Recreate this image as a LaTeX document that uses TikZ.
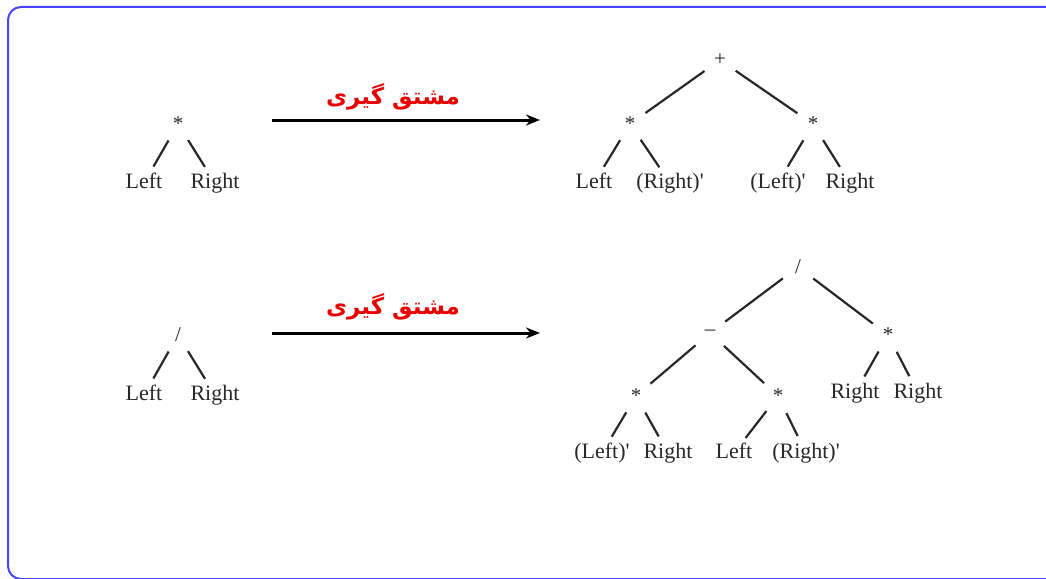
\documentclass[tikz,border=0pt]{standalone}
\usepackage{fontspec}
\setmainfont{Liberation Serif}
\newfontfamily\arabicfont[Script=Arabic]{DejaVu Sans}
\TeXXeTstate=1
\usetikzlibrary{arrows.meta}
\definecolor{framecol}{RGB}{70,70,255}
\definecolor{labred}{RGB}{235,0,0}
\definecolor{inkgray}{RGB}{40,40,40}
\newcommand{\sq}{\textquotesingle}
\tikzset{
  lf/.style={inner sep=0pt, text=inkgray, font=\fontsize{22}{24}\selectfont, text height=14pt, text depth=4pt},
  op/.style={inner sep=0pt, text=inkgray, font=\fontsize{21}{23}\selectfont},
  br/.style={line width=2.2pt, draw=inkgray, shorten <=19pt, shorten >=19pt},
  bigarrow/.style={line width=3pt, -{Stealth[length=14pt,width=11pt]}},
  arlabel/.style={text=labred, font=\arabicfont\bfseries\fontsize{23}{26}\selectfont}
}
\begin{document}
\begin{tikzpicture}[x=1pt,y=-1pt]
\clip (0,0) rectangle (1046,578);
\fill[white] (0,0) rectangle (1046,578);
\draw[framecol, line width=2pt, rounded corners=13pt] (8,7) rectangle (1070,579);

% ---- tree 1 (left) ----
\node[op] (m1) at (178,124) {*};
\node[lf] (l1) at (144,183) {Left};
\node[lf] (r1) at (215,183) {Right};
\draw[br] (m1.center) -- (l1.center);
\draw[br] (m1.center) -- (r1.center);

% arrow 1
\coordinate (a1s) at (272,120);
\coordinate (a1e) at (540,120);
\draw[bigarrow] (a1s) -- (a1e);
\node[arlabel] (t1) at (393,97) {\beginR مشتق گیری\endR};

% ---- tree 1 (right) ----
\node[op] (p) at (720,60) {+};
\node[op] (m2) at (630,124) {*};
\node[op] (m3) at (813,124) {*};
\node[lf] (l2) at (594,183) {Left};
\node[lf] (r2) at (670,183) {(Right)\sq};
\node[lf] (l3) at (778,183) {(Left)\sq};
\node[lf] (r3) at (850,183) {Right};
\draw[br] (p.center) -- (m2.center);
\draw[br] (p.center) -- (m3.center);
\draw[br] (m2.center) -- (l2.center);
\draw[br] (m2.center) -- (r2.center);
\draw[br] (m3.center) -- (l3.center);
\draw[br] (m3.center) -- (r3.center);

% ---- tree 2 (left) ----
\node[op] (d1) at (178,335) {/};
\node[lf] (l4) at (144,395) {Left};
\node[lf] (r4) at (215,395) {Right};
\draw[br] (d1.center) -- (l4.center);
\draw[br] (d1.center) -- (r4.center);

% arrow 2
\coordinate (a2s) at (272,333);
\coordinate (a2e) at (540,333);
\draw[bigarrow] (a2s) -- (a2e);
\node[arlabel] (t2) at (393,307) {\beginR مشتق گیری\endR};

% ---- tree 2 (right) ----
\node[op] (d2) at (798,267) {/};
\node[op] (mi) at (710,333) {–};
\node[op] (m4) at (888,335) {*};
\node[op] (m5) at (636,396) {*};
\node[op] (m6) at (778,396) {*};
\node[lf] (r5) at (855,393) {Right};
\node[lf] (r6) at (918,393) {Right};
\node[lf] (l5) at (602,453) {(Left)\sq};
\node[lf] (r7) at (668,453) {Right};
\node[lf] (l6) at (734,453) {Left};
\node[lf] (r8) at (806,453) {(Right)\sq};
\draw[br] (d2.center) -- (mi.center);
\draw[br] (d2.center) -- (m4.center);
\draw[br] (mi.center) -- (m5.center);
\draw[br] (mi.center) -- (m6.center);
\draw[br] (m4.center) -- (r5.center);
\draw[br] (m4.center) -- (r6.center);
\draw[br] (m5.center) -- (l5.center);
\draw[br] (m5.center) -- (r7.center);
\draw[br] (m6.center) -- (l6.center);
\draw[br] (m6.center) -- (r8.center);
\end{tikzpicture}
\end{document}
